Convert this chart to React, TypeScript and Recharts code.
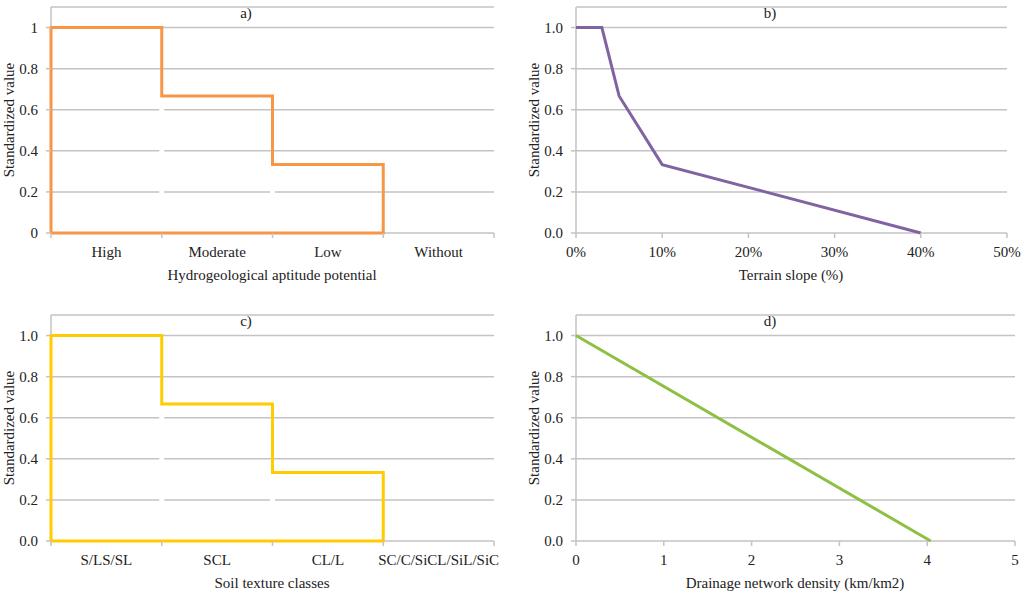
import React from "react";
import { LineChart, Line, XAxis, YAxis, CartesianGrid } from "recharts";

const FONT = '"Liberation Serif", "Times New Roman", serif';
const TEXT = "#222222";
const GRID = "#C3C3C3";
const FS = 15;

// a) hydrogeological aptitude potential
const HYDRO_CLASSES = ["High", "Moderate", "Low", "Without"];
const HYDRO_LEVELS = [1, 0.667, 0.333, 0];

// b) terrain slope
const SLOPE_PCT = [0, 3, 5, 10, 40];
const SLOPE_VALUE = [1, 1, 0.667, 0.333, 0];
const SLOPE_TICKS = [0, 10, 20, 30, 40, 50];

// c) soil texture
const SOIL_CLASSES = ["S/LS/SL", "SCL", "CL/L", "SC/C/SiCL/SiL/SiC"];
const SOIL_LEVELS = [1, 0.667, 0.333, 0];

// d) drainage density
const DENSITY_KM = [0, 4.04];
const DENSITY_VALUE = [1, 0];
const DENSITY_TICKS = [0, 1, 2, 3, 4, 5];

const Y_TICKS = [0, 0.2, 0.4, 0.6, 0.8, 1.0];
const CLASS_TICKS = [0, 1, 2, 3, 4];

type Pt = { x: number; y: number };

// closed step outline for a class chart
function stepOutline(levels: number[]): Pt[] {
  const pts: Pt[] = [{ x: 0, y: 0 }];
  let end = 0;
  levels.forEach((v, i) => {
    if (v > 0) {
      pts.push({ x: i, y: v }, { x: i + 1, y: v });
      end = i + 1;
    }
  });
  pts.push({ x: end, y: 0 }, { x: 0, y: 0 });
  return pts;
}

// white breaks in the gridlines under inner step edges
function stepGaps(levels: number[]): Pt[][] {
  const out: Pt[][] = [];
  levels.forEach((v, i) => {
    if (i > 0 && v > 0) out.push([{ x: i, y: 0.01 }, { x: i, y: v }]);
  });
  return out;
}

const zip = (xs: number[], ys: number[]): Pt[] => xs.map((x, i) => ({ x, y: ys[i] }));

const tickStyle = { fill: TEXT, fontSize: FS, fontFamily: FONT };

function makeCategoryTick(labels: string[], band: number) {
  return (p: any) => {
    const label = labels[p.payload.value];
    if (!label) return <g />;
    return (
      <text x={p.x + band / 2} y={p.y} dy="0.71em" textAnchor="middle" {...tickStyle}>
        {label}
      </text>
    );
  };
}

interface PanelProps {
  left: number;
  top: number;
  width: number;
  height: number;
  plot: [number, number, number, number]; // left, top, right, bottom (local px)
  data: Pt[];
  gaps?: Pt[][];
  color: string;
  xDomain: [number, number];
  xTicks: number[];
  xTick?: any;
  xFmt?: (v: number) => string;
  yFmt: (v: number) => string;
}

function Panel(p: PanelProps) {
  const [pl, pt, pr, pb] = p.plot;
  return (
    <div style={{ position: "absolute", left: p.left, top: p.top }}>
      <LineChart width={p.width} height={p.height} margin={{ top: pt, right: p.width - pr, bottom: 0, left: 0 }}>
        {/* the grid doubles as axis lines so the series sit on top of them */}
        <CartesianGrid
          stroke={GRID}
          strokeWidth={1.5}
          verticalCoordinatesGenerator={({ offset }: any) => [offset.left]}
        />
        <XAxis
          type="number"
          dataKey="x"
          domain={p.xDomain}
          ticks={p.xTicks}
          interval={0}
          height={p.height - pb}
          axisLine={false}
          tickLine={{ stroke: GRID, strokeWidth: 1.5 }}
          tickSize={5}
          tickMargin={8}
          tick={p.xTick || tickStyle}
          tickFormatter={p.xFmt}
        />
        <YAxis
          type="number"
          domain={[0, 1.1]}
          ticks={Y_TICKS}
          interval={0}
          width={pl}
          axisLine={false}
          tickLine={{ stroke: GRID, strokeWidth: 1.5 }}
          tickSize={5}
          tickMargin={8}
          tick={tickStyle}
          tickFormatter={p.yFmt}
        />
        {(p.gaps || []).map((g, i) => (
          <Line key={"g" + i} data={g} dataKey="y" stroke="#FFFFFF" strokeWidth={5} dot={false}
            activeDot={false} isAnimationActive={false} />
        ))}
        <Line data={p.data} dataKey="y" type="linear" stroke={p.color} strokeWidth={3} dot={false}
          activeDot={false} isAnimationActive={false} strokeLinejoin="miter" />
      </LineChart>
    </div>
  );
}

function Caption({ x, y, text, rotate }: { x: number; y: number; text: string; rotate?: boolean }) {
  return (
    <div
      style={{
        position: "absolute",
        left: x,
        top: y,
        transform: `translate(-50%, -50%)${rotate ? " rotate(-90deg)" : ""}`,
        whiteSpace: "nowrap",
        fontSize: FS,
        lineHeight: 1,
        fontFamily: FONT,
        color: TEXT,
      }}
    >
      {text}
    </div>
  );
}

const fmtA = (v: number) => (v === 0 ? "0" : v === 1 ? "1" : String(Number(v.toFixed(1))));
const fmt1 = (v: number) => v.toFixed(1);

export default function App() {
  const bandA = (494 - 51) / 4;
  return (
    <div style={{ position: "fixed", left: 0, top: 0, width: 1024, height: 597, background: "#fff", overflow: "hidden" }}>
      <Panel left={0} top={0} width={512} height={290} plot={[51, 7, 494, 233]}
        data={stepOutline(HYDRO_LEVELS)} gaps={stepGaps(HYDRO_LEVELS)} color="#F79646"
        xDomain={[0, 4]} xTicks={CLASS_TICKS} xTick={makeCategoryTick(HYDRO_CLASSES, bandA)} yFmt={fmtA} />
      <Panel left={512} top={0} width={512} height={290} plot={[64, 7, 495, 233]}
        data={zip(SLOPE_PCT, SLOPE_VALUE)} color="#8064A2"
        xDomain={[0, 50]} xTicks={SLOPE_TICKS} xFmt={(v) => v + "%"} yFmt={fmt1} />
      <Panel left={0} top={300} width={512} height={297} plot={[51, 15, 494, 241]}
        data={stepOutline(SOIL_LEVELS)} gaps={stepGaps(SOIL_LEVELS)} color="#FFCC00"
        xDomain={[0, 4]} xTicks={CLASS_TICKS} xTick={makeCategoryTick(SOIL_CLASSES, bandA)} yFmt={fmt1} />
      <Panel left={512} top={300} width={512} height={297} plot={[64, 15, 503, 241]}
        data={zip(DENSITY_KM, DENSITY_VALUE)} color="#8DC043"
        xDomain={[0, 5]} xTicks={DENSITY_TICKS} yFmt={fmt1} />

      <Caption x={246} y={13} text="a)" />
      <Caption x={770} y={13} text="b)" />
      <Caption x={246} y={321} text="c)" />
      <Caption x={770} y={321} text="d)" />

      <Caption x={272} y={275} text="Hydrogeological aptitude potential" />
      <Caption x={791} y={275} text="Terrain slope (%)" />
      <Caption x={272} y={583} text="Soil texture classes" />
      <Caption x={795} y={583} text="Drainage network density (km/km2)" />

      <Caption x={9} y={120} text="Standardized value" rotate />
      <Caption x={534} y={120} text="Standardized value" rotate />
      <Caption x={9} y={428} text="Standardized value" rotate />
      <Caption x={534} y={428} text="Standardized value" rotate />
    </div>
  );
}
